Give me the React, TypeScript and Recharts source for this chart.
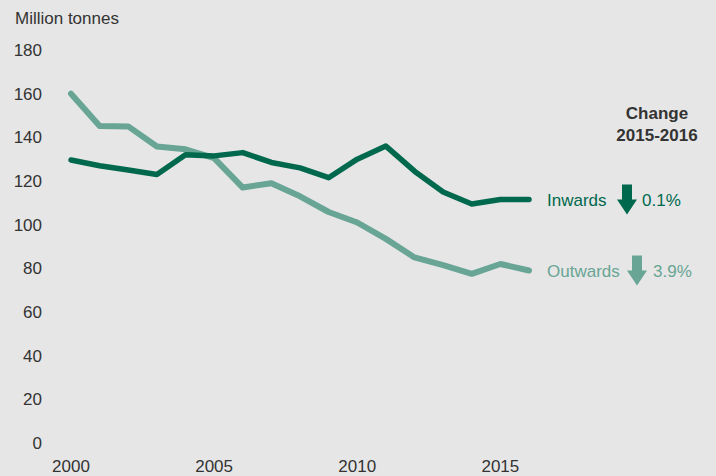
import { LineChart, Line, XAxis, YAxis } from 'recharts'

const years = [2000, 2001, 2002, 2003, 2004, 2005, 2006, 2007, 2008, 2009, 2010, 2011, 2012, 2013, 2014, 2015, 2016]
const inwards = [129.6, 127, 125, 123, 132, 131.5, 133, 128.5, 126, 121.5, 130, 136, 124.5, 115, 109.5, 111.5, 111.5]
const outwards = [160, 145.2, 145, 135.8, 134.5, 130.5, 117, 119, 113, 105.8, 101, 93.5, 85, 81.5, 77.5, 82, 79]
const xTicks = [2000, 2005, 2010, 2015]
const yTicks = [0, 20, 40, 60, 80, 100, 120, 140, 160, 180]
const changes = { inwards: '0.1%', outwards: '3.9%' }

const DARK = '#00694d'
const LIGHT = '#68a594'
const TEXT = '#333333'
const BG = '#e6e6e6'
const FONT = '"Liberation Sans", Arial, sans-serif'

const data = years.map((year, i) => ({ year, inwards: inwards[i], outwards: outwards[i] }))

function endLabel(name: string, change: string, color: string, arrowDx: number, pctDx: number) {
  return (props: any) => {
    const { x, y, index } = props
    if (index !== data.length - 1) {
      return null
    }
    const ax = x + arrowDx
    const top = y - 15
    const arrow = `M${ax + 5},${top} L${ax + 15},${top} L${ax + 15},${top + 15} L${ax + 20},${top + 15} L${ax + 10},${top + 30} L${ax},${top + 15} L${ax + 5},${top + 15} Z`
    return (
      <g>
        <text x={x + 18} y={y} dy="0.36em" fill={color} fontSize={17} fontFamily={FONT}>
          {name}
        </text>
        <path d={arrow} fill={color} />
        <text x={x + pctDx} y={y} dy="0.36em" fill={color} fontSize={17} fontFamily={FONT}>
          {change}
        </text>
      </g>
    )
  }
}

export default function App() {
  return (
    <div style={{ position: 'relative', width: 716, height: 476, background: BG, fontFamily: FONT }}>
      <style>{'body { margin: 0; }'}</style>
      <div style={{ position: 'absolute', left: 15, top: 9, fontSize: 17, color: TEXT }}>Million tonnes</div>
      <div
        style={{
          position: 'absolute',
          left: 598,
          width: 118,
          top: 103,
          fontSize: 17,
          fontWeight: 'bold',
          color: TEXT,
          textAlign: 'center',
          lineHeight: '22px',
        }}
      >
        Change
        <br />
        2015-2016
      </div>
      <LineChart width={716} height={476} data={data} margin={{ top: 50, right: 187, bottom: 0, left: 0 }}>
        <XAxis
          dataKey="year"
          type="number"
          domain={[2000, 2016]}
          ticks={xTicks}
          axisLine={false}
          tickLine={false}
          tickMargin={11}
          height={33}
          tick={{ fill: TEXT, fontSize: 17, fontFamily: FONT }}
        />
        <YAxis
          domain={[0, 180]}
          ticks={yTicks}
          axisLine={false}
          tickLine={false}
          tickMargin={23}
          width={71}
          tick={{ fill: TEXT, fontSize: 17, fontFamily: FONT }}
        />
        <Line
          dataKey="outwards"
          stroke={LIGHT}
          strokeWidth={6}
          strokeLinecap="round"
          strokeLinejoin="round"
          dot={false}
          isAnimationActive={false}
          label={endLabel('Outwards', changes.outwards, LIGHT, 98, 124)}
        />
        <Line
          dataKey="inwards"
          stroke={DARK}
          strokeWidth={5.5}
          strokeLinecap="round"
          strokeLinejoin="round"
          dot={false}
          isAnimationActive={false}
          label={endLabel('Inwards', changes.inwards, DARK, 88, 113)}
        />
      </LineChart>
    </div>
  )
}
